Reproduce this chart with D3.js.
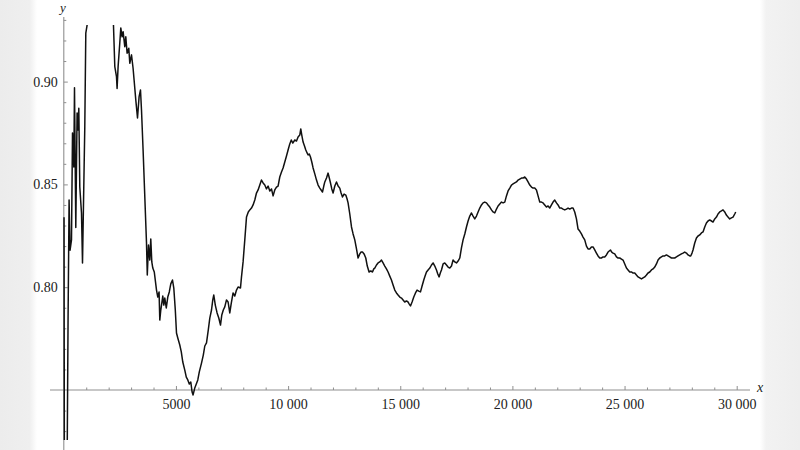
<!DOCTYPE html>
<html><head><meta charset="utf-8">
<script src="https://cdn.jsdelivr.net/npm/d3@7"></script>
<style>html,body{margin:0;padding:0;background:#fff;} svg{display:block;}</style>
</head><body><svg id="c" width="800" height="450"></svg>
<script>
// step index n
const steps = [10,25,60,150,190,236,280,343,388,446,477,535,593,637,669,713,789,834,860,936,981,1039,1070,1605,2140,2207,
2274,2349,2376,2421,2496,2541,2599,2644,2719,2764,2822,2898,2942,3018,3089,3134,3210,3286,3357,3419,3464,3535,
3687,3722,3776,3834,3878,3923,3968,4034,4133,4190,4248,4280,4324,4369,4413,4458,4503,4569,4636,4703,4770,4846,4904,4971,
5024,5082,5171,5238,5305,5394,5461,5528,5595,5662,5720,5764,5840,5907,5974,6041,6139,6219,6286,6362,6442,6509,6585,6642,6687,6754,6834,6910,6986,
7044,7111,7177,7253,7325,7400,7467,7547,7623,7699,7770,7877,7922,7993,8069,8145,8225,8292,8367,8439,8515,8590,8662,8738,8813,8885,8961,
9036,9108,9184,9259,9331,9406,9482,9553,9629,9705,9776,9852,9928,9999,10075,10142,10209,10298,10374,10445,10521,10565,10610,10669,10731,10789,10847,10892,10945,10998,
11056,11114,11190,11266,11337,11413,11471,11533,11591,11636,11712,11783,11837,11890,11948,12006,12082,12157,12229,12304,12362,12425,12496,12572,12630,12674,12750,12826,12897,12973,
13049,13120,13196,13254,13316,13387,13463,13530,13610,13686,13762,13820,13864,13940,14011,14087,14163,14234,14310,14385,14457,14533,14608,14680,14756,14831,14903,14979,
15054,15126,15201,15277,15349,15402,15456,15527,15603,15679,15750,15826,15902,15973,16049,16107,16170,16241,16317,16393,16464,16540,16615,16674,16731,16785,16838,16910,16985,
17061,17132,17208,17284,17355,17431,17507,17578,17654,17729,17801,17877,17952,18024,18100,18175,18247,18322,18398,18470,18545,18621,18693,18768,18844,18915,18991,
19067,19138,19214,19290,19361,19437,19513,19584,19660,19735,19807,19883,19958,20030,20105,20181,20253,20328,20404,20475,20551,20627,20698,20774,20850,20921,20997,
21072,21144,21220,21295,21367,21442,21518,21590,21665,21741,21812,21888,21964,22035,22111,22187,22258,22334,22409,22481,22557,22632,22704,22779,22855,22927,23002,
23078,23149,23225,23301,23372,23448,23524,23595,23671,23746,23818,23894,23969,24041,24116,24192,24264,24371,24429,24488,24563,24639,24710,24786,24862,24933,
25009,25085,25156,25232,25307,25379,25455,25530,25602,25677,25753,25825,25900,25976,26047,26123,26199,26270,26346,26422,26493,26569,26644,26716,26792,26867,26939,
27014,27090,27162,27237,27313,27384,27460,27536,27607,27683,27759,27830,27906,27950,28008,28053,28129,28205,28276,28352,28427,28499,28575,28650,28722,28797,28873,28944,
29020,29096,29167,29243,29319,29390,29466,29541,29613,29689,29764,29836,29912,29956];
// observed ratio
const ratio = [0.834,0.716,0.715,0.716,0.784,0.8424,0.818,0.823,0.875,0.8585,0.897,0.829,0.8847,0.8765,0.887,0.8487,0.836,0.8118,0.829,0.878,0.9236,0.9275,0.935,0.954,0.94,0.93,
0.9073,0.9024,0.8967,0.9073,0.9188,0.9261,0.9218,0.9243,0.917,0.9218,0.9138,0.9162,0.9089,0.913,0.9065,0.9008,0.891,0.8823,0.8927,0.8959,0.8862,0.8667,
0.8215,0.8059,0.8205,0.8132,0.8234,0.8123,0.8093,0.8074,0.7986,0.7952,0.7977,0.784,0.7889,0.7923,0.7957,0.7913,0.7947,0.7899,0.7952,0.7977,0.8016,0.8035,0.7996,0.7889,
0.7777,0.7753,0.7719,0.7685,0.7636,0.7597,0.7563,0.7549,0.7529,0.7539,0.749,0.7476,0.751,0.7529,0.7549,0.7588,0.7631,0.767,0.7714,0.7729,0.7792,0.785,0.7889,0.7938,0.7962,0.7913,0.7875,0.785,0.7816,
0.7865,0.7889,0.7904,0.7938,0.7928,0.7875,0.7923,0.7972,0.7957,0.7986,0.8001,0.7996,0.805,0.8123,0.823,0.8341,0.8366,0.8376,0.8385,0.84,0.8424,0.8458,0.8473,0.8497,0.8521,0.8507,0.8497,
0.8478,0.8492,0.8468,0.8478,0.8444,0.8473,0.8487,0.8492,0.8536,0.856,0.858,0.8609,0.8638,0.8667,0.8697,0.8716,0.8701,0.8716,0.8711,0.8731,0.874,0.877,0.874,0.8706,0.8687,0.8667,0.8653,0.8643,0.8648,0.8633,
0.8609,0.858,0.8551,0.8521,0.8497,0.8482,0.8473,0.8463,0.8492,0.8512,0.8531,0.8555,0.8531,0.8507,0.8478,0.8458,0.8492,0.8512,0.8492,0.8482,0.8458,0.8439,0.8453,0.8448,0.8429,0.841,0.8356,0.8293,0.8259,0.823,
0.8186,0.8142,0.8162,0.8171,0.8171,0.8162,0.8142,0.8103,0.8074,0.8079,0.8074,0.8089,0.8093,0.8108,0.8118,0.8123,0.8132,0.8118,0.8103,0.8089,0.8074,0.8054,0.8035,0.8011,0.7986,0.7972,0.7962,0.7952,
0.7947,0.7938,0.7928,0.7933,0.7928,0.7918,0.7909,0.7928,0.7952,0.7972,0.7986,0.7981,0.7977,0.8006,0.8035,0.8054,0.8074,0.8084,0.8093,0.8108,0.8118,0.8103,0.8084,0.8064,0.805,0.8069,0.8084,0.8113,0.8118,
0.8108,0.8098,0.8093,0.8103,0.8132,0.8123,0.8118,0.8127,0.8142,0.8191,0.823,0.8259,0.8293,0.8322,0.8346,0.8361,0.8346,0.8332,0.8346,0.8366,0.8385,0.84,0.841,0.8414,0.841,0.84,0.839,
0.8376,0.8366,0.8361,0.838,0.8395,0.8405,0.8414,0.841,0.8414,0.8444,0.8468,0.8482,0.8497,0.8502,0.8507,0.8512,0.8521,0.8526,0.8531,0.8531,0.8536,0.8526,0.8512,0.8497,0.8487,0.8482,0.8482,
0.8473,0.8444,0.8414,0.8414,0.841,0.84,0.839,0.8395,0.8385,0.84,0.8414,0.8424,0.841,0.84,0.8385,0.8385,0.838,0.8376,0.838,0.8385,0.838,0.8385,0.8385,0.8366,0.8332,0.8283,0.8273,
0.8259,0.8244,0.823,0.82,0.8186,0.8186,0.8196,0.8196,0.8181,0.8166,0.8152,0.8142,0.8142,0.8147,0.8147,0.8157,0.8171,0.8181,0.8171,0.8166,0.8162,0.8147,0.8142,0.8142,0.8137,0.8132,
0.8113,0.8093,0.8084,0.8074,0.8074,0.8069,0.8069,0.8059,0.805,0.8045,0.804,0.8045,0.805,0.8059,0.8069,0.8074,0.8084,0.8089,0.8098,0.8113,0.8132,0.8142,0.8147,0.8152,0.8152,0.8157,0.8152,
0.8147,0.8142,0.8142,0.8142,0.8147,0.8152,0.8157,0.8162,0.8166,0.8171,0.8166,0.8157,0.8152,0.8152,0.8166,0.8181,0.8215,0.8239,0.8249,0.8254,0.8264,0.8269,0.8293,0.8312,0.8322,0.8327,0.8322,0.8317,
0.8332,0.8341,0.8356,0.8366,0.8371,0.8376,0.8366,0.8351,0.8341,0.8332,0.8337,0.8341,0.8356,0.8366];

const xTickValues = [5000,10000,15000,20000,25000,30000];
const xTickLabels = ["5000","10 000","15 000","20 000","25 000","30 000"];
const yTickValues = [0.80,0.85,0.90];
const yTickLabels = ["0.80","0.85","0.90"];
const xMinorValues = [1000,2000,3000,4000,6000,7000,8000,9000,11000,12000,13000,14000,16000,17000,18000,19000,21000,22000,23000,24000,26000,27000,28000,29000];
const yMinorValues = [0.73,0.74,0.76,0.77,0.78,0.79,0.81,0.82,0.83,0.84,0.86,0.87,0.88,0.89,0.91,0.92,0.93];

const svg = d3.select("#c");
const defs = svg.append("defs");
const gl = defs.append("linearGradient").attr("id","gl").attr("x1","0").attr("x2","1");
gl.append("stop").attr("offset","0").attr("stop-color","#ececec");
gl.append("stop").attr("offset","0.8").attr("stop-color","#efefef");
gl.append("stop").attr("offset","1").attr("stop-color","#ffffff");
const gr = defs.append("linearGradient").attr("id","gr").attr("x1","0").attr("x2","1");
gr.append("stop").attr("offset","0").attr("stop-color","#ffffff");
gr.append("stop").attr("offset","0.15").attr("stop-color","#f2f2f2");
gr.append("stop").attr("offset","1").attr("stop-color","#eeeeee");
svg.append("rect").attr("x",0).attr("y",0).attr("width",800).attr("height",450).attr("fill","#fff");
svg.append("rect").attr("x",0).attr("y",0).attr("width",37).attr("height",450).attr("fill","url(#gl)");
svg.append("rect").attr("x",760).attr("y",0).attr("width",40).attr("height",450).attr("fill","url(#gr)");

const x = d3.scaleLinear().domain([0,30000]).range([63.8,736.7]);
const y = d3.scaleLinear().domain([0.75,0.90]).range([390,81.6]);
const font = "'Liberation Serif','DejaVu Serif',serif";
const axisColor = "#8f8f8f";

svg.append("line").attr("x1",50).attr("x2",750).attr("y1",y(0.75)).attr("y2",y(0.75))
  .attr("stroke",axisColor).attr("stroke-width",1.1);
svg.append("line").attr("x1",x(0)).attr("x2",x(0)).attr("y1",17).attr("y2",450)
  .attr("stroke",axisColor).attr("stroke-width",1.1);

function styleAxis(g){
  g.select(".domain").remove();
  g.selectAll(".tick line").attr("stroke",axisColor);
  g.selectAll("text").attr("font-family",font).attr("font-size","14px").attr("fill","#222");
}
const xa = d3.axisBottom(x).tickValues(xTickValues).tickFormat((d,i)=>xTickLabels[i]).tickSize(-4).tickPadding(9);
svg.append("g").attr("transform",`translate(0,${y(0.75)})`).call(xa).call(styleAxis);
const xm = d3.axisBottom(x).tickValues(xMinorValues).tickFormat("").tickSize(-2.5);
svg.append("g").attr("transform",`translate(0,${y(0.75)})`).call(xm).call(styleAxis);
const ya = d3.axisLeft(y).tickValues(yTickValues).tickFormat((d,i)=>yTickLabels[i]).tickSize(-4).tickPadding(6);
svg.append("g").attr("transform",`translate(${x(0)},0)`).call(ya).call(styleAxis);
const ym = d3.axisLeft(y).tickValues(yMinorValues).tickFormat("").tickSize(-2.5);
svg.append("g").attr("transform",`translate(${x(0)},0)`).call(ym).call(styleAxis);

svg.append("text").attr("x",757).attr("y",392).attr("font-family",font).attr("font-style","italic")
  .attr("font-size","14px").attr("fill","#222").text("x");
svg.append("text").attr("x",63).attr("y",12).attr("text-anchor","middle").attr("font-family",font).attr("font-style","italic")
  .attr("font-size","13px").attr("fill","#222").text("y");

defs.append("clipPath").attr("id","clip").append("rect")
  .attr("x",x(0)-1).attr("y",y(0.9275)).attr("width",x(30600)-x(0)).attr("height",y(0.7257)-y(0.9275));

const pts = steps.map((s,i)=>[s,ratio[i]]);
const line = d3.line().x(d=>x(d[0])).y(d=>y(d[1]));
svg.append("path").datum(pts).attr("clip-path","url(#clip)").attr("d",line)
  .attr("fill","none").attr("stroke","#111").attr("stroke-width",1.5).attr("stroke-linejoin","round");
</script></body></html>
